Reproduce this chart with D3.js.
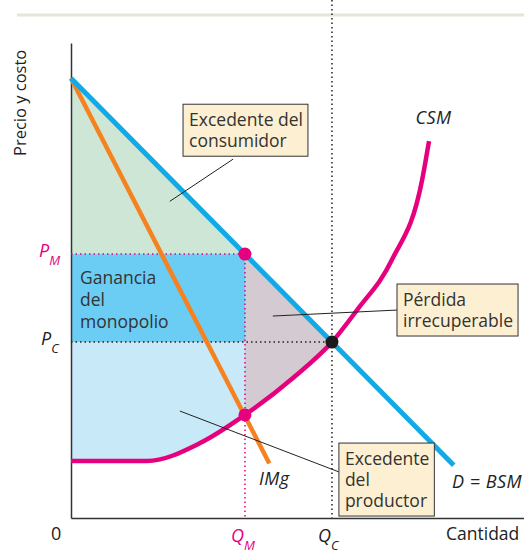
<!DOCTYPE html>
<html>
<head>
<meta charset="utf-8">
<script src="https://cdn.jsdelivr.net/npm/d3@7"></script>
<style>
  body { margin: 0; background: #fff; }
  svg { display: block; font-family: "Open Sans", Lato, sans-serif; }
</style>
</head>
<body>
<div id="chart"></div>
<script>
// curvas (cantidad, precio)
const demand = [[0, 12.5], [11, 1.5]];
const marginalRevenue = [[0, 12.5], [5.7, 1.55]];
const marginalCost = [
  [0, 1.62], [2.18, 1.62], [3.71, 2.13], [5, 2.93], [6.38, 3.98],
  [7.5, 5.0], [8.22, 5.91], [9.22, 7.33], [10.09, 9.6], [10.29, 10.71]
];
const qM = 5, qC = 7.5;
const pM = 7.5, pC = 5.0;
const mcAtQM = 2.93;

// cajas de texto: esquina sup. izq. y extremo de la flecha (en unidades de datos)
const notes = [
  { lines: ["Excedente del", "consumidor"], q: 3.22, p: 11.76, from: [4.66, 10.2], to: [2.84, 9.0] },
  { lines: ["Pérdida", "irrecuperable"], q: 9.37, p: 6.65, from: [9.37, 5.91], to: [5.8, 5.74] },
  { lines: ["Excedente", "del", "productor"], q: 7.7, p: 2.13, from: [7.7, 1.31], to: [3.13, 3.04] }
];

const width = 524, height = 553;
const x = d3.scaleLinear().domain([0, 13.02]).range([71, 524]);
const y = d3.scaleLinear().domain([0, 13.5]).range([518, 43]);

const svg = d3.select("#chart").append("svg")
  .attr("width", width)
  .attr("height", height);

const line = d3.line().x(d => x(d[0])).y(d => y(d[1]));
const mcLine = d3.line().x(d => x(d[0])).y(d => y(d[1])).curve(d3.curveMonotoneX);
const aboveMC = d3.area().x(d => x(d[0])).y0(d => y(d[1])).y1(y(13.5)).curve(d3.curveMonotoneX);

svg.append("clipPath").attr("id", "above-mc")
  .append("path").attr("d", aboveMC(marginalCost));

// linea gris superior
svg.append("line")
  .attr("x1", 17).attr("x2", width)
  .attr("y1", 15).attr("y2", 15)
  .attr("stroke", "#e6e6d8").attr("stroke-width", 3);

// areas
svg.append("path")
  .attr("d", line([[0, demand[0][1]], [qM, pM], [0, pM]]) + "Z")
  .attr("fill", "#cde6d6");

svg.append("rect")
  .attr("x", x(0)).attr("y", y(pM))
  .attr("width", x(qM) - x(0)).attr("height", y(pC) - y(pM))
  .attr("fill", "#6bcdf4");

svg.append("rect")
  .attr("x", x(0)).attr("y", y(pC))
  .attr("width", x(qM) - x(0)).attr("height", y(0) - y(pC))
  .attr("fill", "#c7e9f8")
  .attr("clip-path", "url(#above-mc)");

svg.append("path")
  .attr("d", line([[qM, pM], [qC, pC], [qC, 0], [qM, 0]]) + "Z")
  .attr("fill", "#d3cbd1")
  .attr("clip-path", "url(#above-mc)");

// ejes
svg.append("g")
  .attr("transform", `translate(0,${y(0)})`)
  .call(d3.axisBottom(x).tickValues([]).tickSizeOuter(0))
  .select(".domain").attr("stroke", "#333").attr("stroke-width", 1.5);

svg.append("g")
  .attr("transform", `translate(${x(0)},0)`)
  .call(d3.axisLeft(y).tickValues([]).tickSizeOuter(0))
  .select(".domain").attr("stroke", "#333").attr("stroke-width", 1.5);

// lineas punteadas
svg.append("line")
  .attr("x1", x(qC)).attr("x2", x(qC))
  .attr("y1", 0).attr("y2", y(0))
  .attr("stroke", "#222").attr("stroke-width", 1.5)
  .attr("stroke-dasharray", "1.5,3");

svg.append("line")
  .attr("x1", x(0)).attr("x2", x(qC))
  .attr("y1", y(pC)).attr("y2", y(pC))
  .attr("stroke", "#222").attr("stroke-width", 1.5)
  .attr("stroke-dasharray", "1.5,3");

svg.append("line")
  .attr("x1", x(0)).attr("x2", x(qM))
  .attr("y1", y(pM)).attr("y2", y(pM))
  .attr("stroke", "#e6007e").attr("stroke-width", 1.5)
  .attr("stroke-dasharray", "1.5,3");

svg.append("line")
  .attr("x1", x(qM)).attr("x2", x(qM))
  .attr("y1", y(pM)).attr("y2", y(0))
  .attr("stroke", "#e6007e").attr("stroke-width", 1.5)
  .attr("stroke-dasharray", "1.5,3");

// curvas
svg.append("path")
  .attr("d", mcLine(marginalCost))
  .attr("fill", "none").attr("stroke", "#e6007e").attr("stroke-width", 4.5);

svg.append("path")
  .attr("d", line(marginalRevenue))
  .attr("fill", "none").attr("stroke", "#f5821f").attr("stroke-width", 4.5);

svg.append("path")
  .attr("d", line(demand))
  .attr("fill", "none").attr("stroke", "#12aae6").attr("stroke-width", 5);

// puntos
svg.append("circle").attr("cx", x(qM)).attr("cy", y(pM)).attr("r", 6.5).attr("fill", "#e6007e");
svg.append("circle").attr("cx", x(qM)).attr("cy", y(mcAtQM)).attr("r", 6.5).attr("fill", "#e6007e");
svg.append("circle").attr("cx", x(qC)).attr("cy", y(pC)).attr("r", 6.5).attr("fill", "#1a1a1a");

// texto interior
const gan = svg.append("text")
  .attr("x", x(0) + 9).attr("y", y(pM) + 30)
  .attr("fill", "#333").style("font-size", "17.5px");
["Ganancia", "del", "monopolio"].forEach((t, i) => {
  gan.append("tspan").attr("x", x(0) + 9).attr("dy", i ? 22 : 0).text(t);
});

// etiquetas de curvas
const curveLabel = (txt, q, p) => svg.append("text")
  .attr("x", x(q)).attr("y", y(p))
  .attr("fill", "#222").style("font-size", "18px").style("font-style", "italic")
  .style("letter-spacing", "0.5px")
  .text(txt);
curveLabel("CSM", 9.9, 11.2);
curveLabel("IMg", 5.4, 0.94);
curveLabel("D = BSM", 10.95, 0.85);

// etiquetas con subindice
function subLabel(main, sub, px, py, color, anchor) {
  const t = svg.append("text")
    .attr("x", px).attr("y", py)
    .attr("fill", color).style("font-size", "18px").style("font-style", "italic")
    .attr("text-anchor", anchor || "start");
  t.append("tspan").text(main);
  t.append("tspan").attr("dy", 8).style("font-size", "13px").text(sub);
}
subLabel("P", "M", 39, y(pM) + 3, "#e6007e");
subLabel("P", "C", 41, y(pC) + 3, "#222");
subLabel("Q", "M", x(qM) - 14, 542, "#e6007e");
subLabel("Q", "C", x(qC) - 14, 542, "#222");

svg.append("text").attr("x", 51).attr("y", 540)
  .attr("fill", "#222").style("font-size", "18px").text("0");
svg.append("text").attr("x", 446).attr("y", 540)
  .attr("fill", "#222").style("font-size", "17.5px").text("Cantidad");

svg.append("text")
  .attr("transform", "translate(26,156) rotate(-90)")
  .attr("fill", "#222").style("font-size", "16.5px")
  .text("Precio y costo");

// cajas de anotacion
notes.forEach(n => {
  svg.append("line")
    .attr("x1", x(n.from[0])).attr("y1", y(n.from[1]))
    .attr("x2", x(n.to[0])).attr("y2", y(n.to[1]))
    .attr("stroke", "#222").attr("stroke-width", 1);

  const g = svg.append("g").attr("transform", `translate(${x(n.q)},${y(n.p)})`);
  const box = g.append("rect").attr("fill", "#fdefd1").attr("stroke", "#333").attr("stroke-width", 1);
  const t = g.append("text").attr("fill", "#333").style("font-size", "17.5px");
  n.lines.forEach((s, i) => {
    t.append("tspan").attr("x", 6).attr("y", 22 + i * 21).text(s);
  });
  const bb = t.node().getBBox();
  box.attr("x", 0).attr("y", 0)
    .attr("width", bb.x + bb.width + 5)
    .attr("height", bb.y + bb.height + 4);
});
</script>
</body>
</html>
